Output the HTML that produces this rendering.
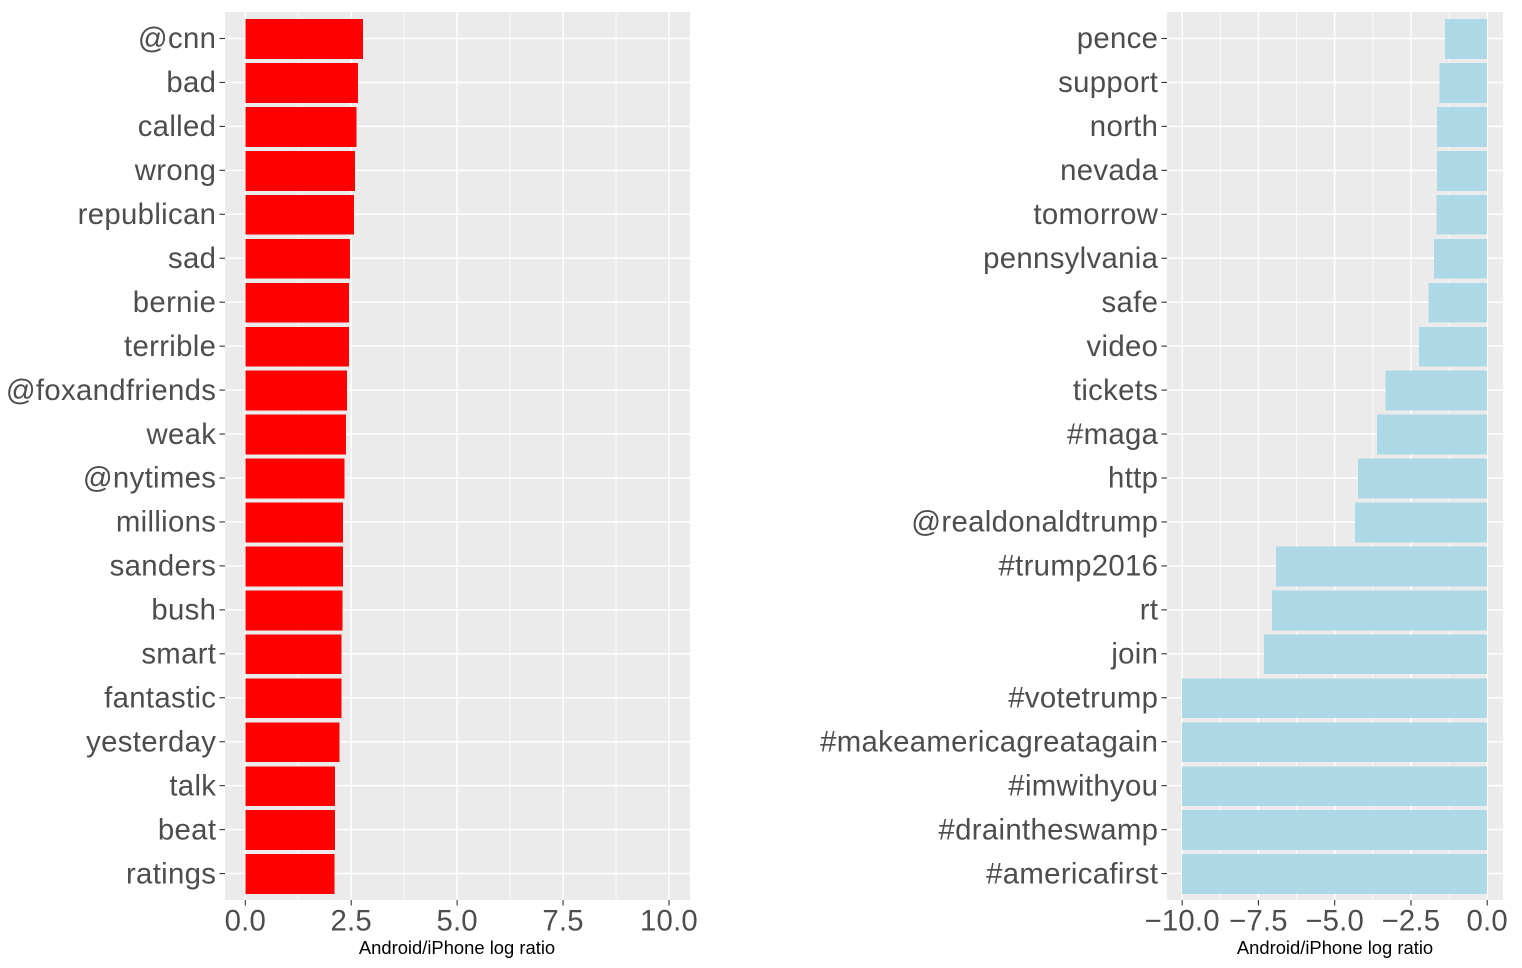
<!DOCTYPE html>
<html>
<head>
<meta charset="utf-8">
<style>
html,body{margin:0;padding:0;background:#fff;}
svg{display:block;}
text{font-family:"Liberation Sans",Arial,sans-serif;}
</style>
</head>
<body>
<svg id="chart" width="1522" height="968" viewBox="0 0 1522 968" xmlns="http://www.w3.org/2000/svg"></svg>
<script>
var androidWords = ["@cnn","bad","called","wrong","republican","sad","bernie","terrible","@foxandfriends","weak","@nytimes","millions","sanders","bush","smart","fantastic","yesterday","talk","beat","ratings"];
var androidValues = [2.78,2.66,2.62,2.59,2.57,2.47,2.45,2.45,2.40,2.38,2.34,2.31,2.31,2.29,2.27,2.27,2.22,2.12,2.12,2.10];
var androidTicks = [0,2.5,5,7.5,10];
var androidTickLabels = ["0.0","2.5","5.0","7.5","10.0"];
var androidMinorTicks = [1.25,3.75,6.25,8.75];

var iphoneWords = ["pence","support","north","nevada","tomorrow","pennsylvania","safe","video","tickets","#maga","http","@realdonaldtrump","#trump2016","rt","join","#votetrump","#makeamericagreatagain","#imwithyou","#draintheswamp","#americafirst"];
var iphoneValues = [-1.38,-1.57,-1.64,-1.64,-1.67,-1.74,-1.93,-2.23,-3.34,-3.61,-4.23,-4.33,-6.92,-7.05,-7.31,-10,-10,-10,-10,-10];
var iphoneTicks = [-10,-7.5,-5,-2.5,0];
var iphoneTickLabels = ["\u221210.0","\u22127.5","\u22125.0","\u22122.5","0.0"];
var iphoneMinorTicks = [-8.75,-6.25,-3.75,-1.25];

var axisTitle = "Android/iPhone log ratio";

var svg = document.getElementById('chart');
var NS = 'http://www.w3.org/2000/svg';

function make(tag, attrs, parent) {
  var el = document.createElementNS(NS, tag);
  for (var k in attrs) { el.setAttribute(k, attrs[k]); }
  parent.appendChild(el);
  return el;
}

function drawPanel(cfg) {
  var group = make('g', {}, svg);
  
  

  var left = cfg.left, right = cfg.right, top = 12, bottom = 900;
  function xScale(v) { return cfg.zeroX + v * cfg.unit; }
  function yScale(i) { return 38.5 + i * 43.95; }

  var bg = make('rect', {x: left, y: top, width: right - left, height: bottom - top, fill: '#EBEBEB'}, group);
  
  

  cfg.minor.forEach(function (v) {
    var line = make('line', {x1: xScale(v), x2: xScale(v), y1: top, y2: bottom, stroke: '#fff', 'stroke-width': 0.75}, group);
    
    
  });
  cfg.ticks.forEach(function (v) {
    var line = make('line', {x1: xScale(v), x2: xScale(v), y1: top, y2: bottom, stroke: '#fff', 'stroke-width': 1.5}, group);
    
    
  });
  cfg.words.forEach(function (w, i) {
    var line = make('line', {x1: left, x2: right, y1: yScale(i), y2: yScale(i), stroke: '#fff', 'stroke-width': 1.5}, group);
    
    
  });

  cfg.values.forEach(function (v, i) {
    var x0 = xScale(Math.min(0, v)), x1 = xScale(Math.max(0, v));
    var bar = make('rect', {x: x0, y: yScale(i) - 19.4, width: x1 - x0, height: 39.8, fill: cfg.color, 'shape-rendering': 'crispEdges'}, group);
    
    
  });

  cfg.words.forEach(function (w, i) {
    var tick = make('line', {x1: left - 5.5, x2: left, y1: yScale(i), y2: yScale(i), stroke: '#333', 'stroke-width': 1.1}, group);
    
    
    var label = make('text', {x: left - 8.7, y: yScale(i) + 9.7, 'text-anchor': 'end', 'font-size': 29.33, 'letter-spacing': 0.33, fill: '#4D4D4D'}, group);
    
    
    label.textContent = w;
  });

  cfg.ticks.forEach(function (v, i) {
    var tick = make('line', {x1: xScale(v), x2: xScale(v), y1: bottom, y2: bottom + 5.5, stroke: '#333', 'stroke-width': 1.1}, group);
    
    
    var label = make('text', {x: xScale(v), y: 930.5, 'text-anchor': 'middle', 'font-size': 29.33, 'letter-spacing': 0.2, fill: '#4D4D4D'}, group);
    
    
    label.textContent = cfg.tickLabels[i];
  });

  var title = make('text', {x: cfg.titleX, y: 954, 'text-anchor': 'middle', 'font-size': 18.4, fill: '#000'}, group);
  
  
  title.textContent = axisTitle;
}

drawPanel({name: 'android', left: 225, right: 690, zeroX: 245.3, unit: 42.37, titleX: 457, color: '#FF0000',
  words: androidWords, values: androidValues, ticks: androidTicks, tickLabels: androidTickLabels, minor: androidMinorTicks});
drawPanel({name: 'iphone', left: 1167, right: 1503, zeroX: 1487.2, unit: 30.5, titleX: 1335, color: '#ADD8E6',
  words: iphoneWords, values: iphoneValues, ticks: iphoneTicks, tickLabels: iphoneTickLabels, minor: iphoneMinorTicks});
</script>
</body>
</html>
